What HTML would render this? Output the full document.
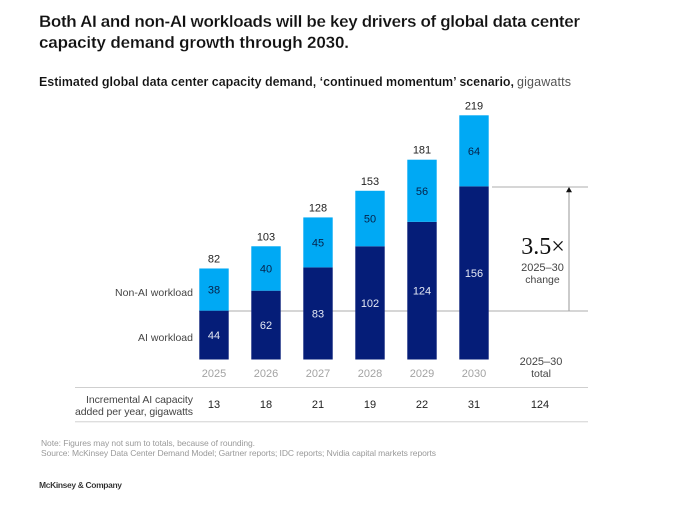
<!DOCTYPE html>
<html>
<head>
<meta charset="utf-8">
<style>
html,body{margin:0;padding:0;background:#fff;width:680px;height:506px;overflow:hidden}
svg{display:block;font-family:"Liberation Sans",sans-serif}
</style>
</head>
<body>
<svg id="chart" width="680" height="506" viewBox="0 0 680 506" xmlns="http://www.w3.org/2000/svg">
<rect width="680" height="506" fill="#fff"/>
<text x="39" y="27" font-size="17" font-weight="700" fill="#111" stroke="#fff" stroke-width="0.2" textLength="541" lengthAdjust="spacing">Both AI and non-AI workloads will be key drivers of global data center</text>
<text x="39" y="48" font-size="17" font-weight="700" fill="#111" stroke="#fff" stroke-width="0.2" textLength="310" lengthAdjust="spacing">capacity demand growth through 2030.</text>
<text x="39" y="86" font-size="12.5" font-weight="700" fill="#111" stroke="#fff" stroke-width="0.12" textLength="475" lengthAdjust="spacing">Estimated global data center capacity demand, ‘continued momentum’ scenario,</text>
<text x="517" y="86" font-size="12.5" fill="#555" textLength="54" lengthAdjust="spacing">gigawatts</text>
<line x1="199" x2="588" y1="311" y2="311" stroke="#bdbdbd" stroke-width="1.2"/>
<line x1="492" x2="588" y1="187" y2="187" stroke="#bdbdbd" stroke-width="1.2"/>
<line x1="569" x2="569" y1="311" y2="190" stroke="#a8a8a8" stroke-width="1.2"/>
<polygon points="569,187 566,192.2 572,192.2" fill="#111"/>
<g id="bars"></g>
<text x="193" y="296" text-anchor="end" font-size="10.5" fill="#444" textLength="78" lengthAdjust="spacing">Non-AI workload</text>
<text x="193" y="341" text-anchor="end" font-size="10.5" fill="#444" textLength="55" lengthAdjust="spacing">AI workload</text>
<text x="543" y="254" text-anchor="middle" font-family="Liberation Serif, serif" font-size="24" fill="#111">3.5×</text>
<text x="542.5" y="271" text-anchor="middle" font-size="11" fill="#444">2025–30</text>
<text x="542.5" y="283" text-anchor="middle" font-size="10.5" fill="#444">change</text>
<text x="541" y="365" text-anchor="middle" font-size="11" fill="#444">2025–30</text>
<text x="541" y="377" text-anchor="middle" font-size="10.5" fill="#444">total</text>
<line x1="75" x2="588" y1="387.5" y2="387.5" stroke="#cfcfcf" stroke-width="1"/>
<line x1="75" x2="588" y1="421.7" y2="421.7" stroke="#dedede" stroke-width="1.4"/>
<text x="193" y="403" text-anchor="end" font-size="10.5" fill="#444" textLength="107" lengthAdjust="spacing">Incremental AI capacity</text>
<text x="193" y="415" text-anchor="end" font-size="10.5" fill="#444" textLength="118" lengthAdjust="spacing">added per year, gigawatts</text>
<text x="540" y="408" text-anchor="middle" font-size="11" fill="#222">124</text>
<text x="41" y="446" font-size="8.5" fill="#9a9a9a" textLength="214" lengthAdjust="spacing">Note: Figures may not sum to totals, because of rounding.</text>
<text x="41" y="456" font-size="8.5" fill="#9a9a9a" textLength="395" lengthAdjust="spacing">Source: McKinsey Data Center Demand Model; Gartner reports; IDC reports; Nvidia capital markets reports</text>
<text x="39" y="488" font-size="8.5" font-weight="700" fill="#222" stroke="#fff" stroke-width="0.1" textLength="83" lengthAdjust="spacing">McKinsey &amp; Company</text>
</svg>
<script>
const years = ['2025', '2026', '2027', '2028', '2029', '2030'];
const aiWorkload = [44, 62, 83, 102, 124, 156];
const nonAiWorkload = [38, 40, 45, 50, 56, 64];
const totals = [82, 103, 128, 153, 181, 219];
const incremental = [13, 18, 21, 19, 22, 31];

const svgNS = 'http://www.w3.org/2000/svg';
const barsGroup = document.getElementById('bars');
const baselineY = 359.5;
const unitHeight = 1.11;
const firstBarCenter = 214;
const barPitch = 52;
const barWidth = 29.4;

function xCenter(index) {
  return firstBarCenter + index * barPitch;
}
function yValue(value) {
  return baselineY - value * unitHeight;
}
function makeRect(x, y, w, h, fill) {
  const r = document.createElementNS(svgNS, 'rect');
  r.setAttribute('x', x);
  r.setAttribute('y', y);
  r.setAttribute('width', w);
  r.setAttribute('height', h);
  r.setAttribute('fill', fill);
  barsGroup.appendChild(r);
  return r;
}
function makeText(x, y, content, fill) {
  const t = document.createElementNS(svgNS, 'text');
  t.setAttribute('x', x);
  t.setAttribute('y', y);
  t.setAttribute('text-anchor', 'middle');
  t.setAttribute('font-size', '11');
  t.setAttribute('fill', fill);
  t.textContent = content;
  barsGroup.appendChild(t);
  return t;
}

years.forEach(function (year, i) {
  const cx = xCenter(i);
  const left = cx - barWidth / 2;
  const aiTop = yValue(aiWorkload[i]);
  const stackTop = yValue(aiWorkload[i] + nonAiWorkload[i]);

  const aiBar = makeRect(left, aiTop, barWidth, baselineY - aiTop, '#051d78');
  
  

  const nonAiBar = makeRect(left, stackTop, barWidth, aiTop - stackTop, '#00a9f4');
  
  

  const aiLabel = makeText(cx, (aiTop + baselineY) / 2 + 4, aiWorkload[i], '#e4e8f4');
  
  

  const nonAiLabel = makeText(cx, (stackTop + aiTop) / 2 + 4, nonAiWorkload[i], '#06224a');
  
  

  const totalLabel = makeText(cx, stackTop - 6, totals[i], '#222');
  
  

  const yearLabel = makeText(cx, 377, year, '#a3a3a3');
  
  

  const incLabel = makeText(cx, 408, incremental[i], '#222');
  
  
});
</script>
</body>
</html>
